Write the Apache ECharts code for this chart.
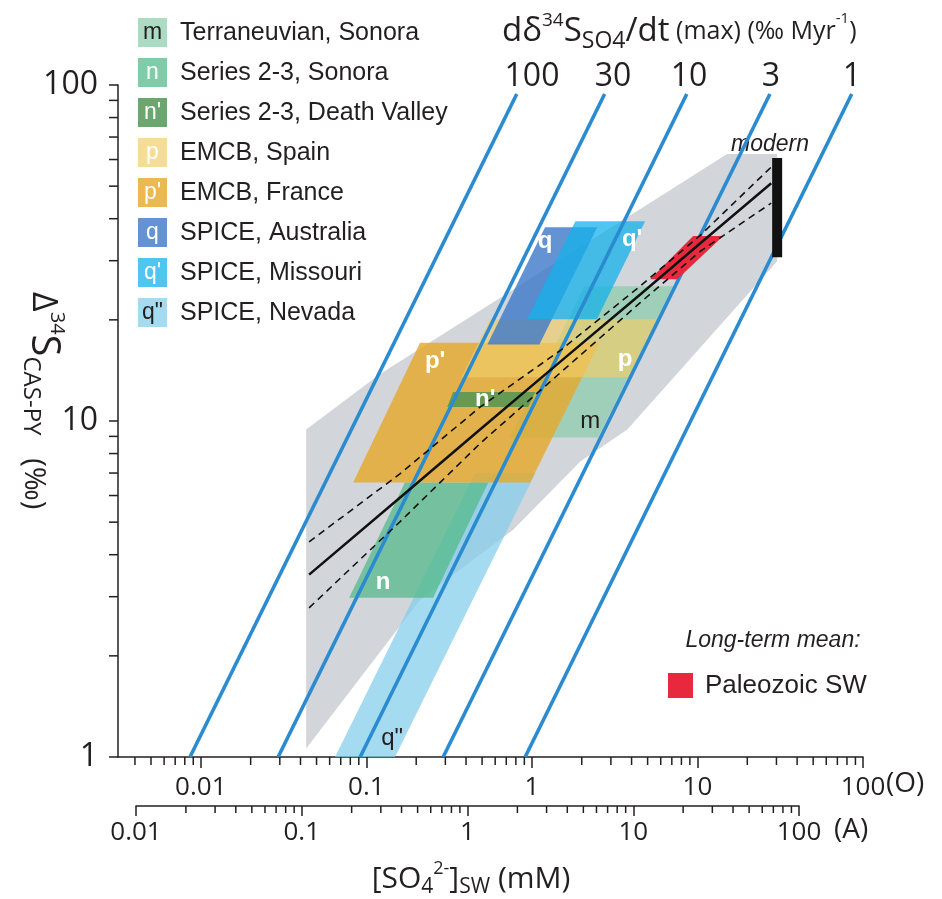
<!DOCTYPE html>
<html>
<head>
<meta charset="utf-8">
<script src="https://cdn.jsdelivr.net/npm/echarts@6.0.0/dist/echarts.min.js"></script>
<style>
  html, body { margin: 0; padding: 0; background: #fff; }
  #main { width: 942px; height: 899px; }
</style>
</head>
<body>
<div id="main"></div>
<script>
// ---- values (x = [SO4] on the (O) scale, y = Δ34S) ----
var oTicks = [0.01, 0.1, 1, 10, 100];
var aTicks = [0.01, 0.1, 1, 10, 100];
var yTicks = [1, 10, 100];
var oMinorTicks = [0.004, 0.005, 0.006, 0.007, 0.008, 0.009, 0.02, 0.03, 0.04, 0.05, 0.06, 0.07, 0.08, 0.09,
  0.2, 0.3, 0.4, 0.5, 0.6, 0.7, 0.8, 0.9, 2, 3, 4, 5, 6, 7, 8, 9, 20, 30, 40, 50, 60, 70, 80, 90];
var aMinorTicks = [0.02, 0.03, 0.04, 0.05, 0.06, 0.07, 0.08, 0.09, 0.2, 0.3, 0.4, 0.5, 0.6, 0.7, 0.8, 0.9,
  2, 3, 4, 5, 6, 7, 8, 9, 20, 30, 40, 50, 60, 70, 80, 90];
var yMinorTicks = [2, 3, 4, 5, 6, 7, 8, 9, 20, 30, 40, 50, 60, 70, 80, 90];

// max rate of change lines (‰/Myr)
var rateLabels = ['100', '30', '10', '3', '1'];
var rateLow = [[0.0086, 1], [0.0293, 1], [0.0917, 1], [0.291, 1], [0.91, 1]];
var rateHigh = [[0.81, 94], [2.75, 94], [8.62, 94], [27.4, 94], [85.5, 94]];

// grey envelope
var envelope = [[0.0433, 1.06], [0.0433, 9.43], [0.121, 13.8], [15.1, 62.3], [30.3, 62.3],
  [30.3, 29.9], [3.77, 9.43], [1.96, 7.57], [0.77, 4.75], [0.211, 2.94]];

// formations
var boxNevada = [[0.0647, 1.0], [0.149, 1.0], [1.05, 7.0], [0.454, 7.0]];
var boxSonoraN = [[0.0787, 2.98], [0.253, 2.98], [0.545, 6.56], [0.171, 6.56]];
var boxSonoraM = [[0.739, 8.93], [2.51, 8.93], [7.14, 25.2], [2.07, 25.2]];
var boxFrance = [[0.0832, 6.56], [0.976, 6.56], [2.55, 17.1], [0.211, 17.1]];
var boxDeathValley = [[0.308, 11.0], [0.949, 11.0], [1.05, 12.2], [0.334, 12.2]];
var boxSpain = [[0.376, 13.5], [4.01, 13.5], [5.96, 20.1], [0.559, 20.1]];
var boxAustralia = [[0.538, 16.9], [1.11, 16.9], [2.48, 37.7], [1.20, 37.7]];
var boxMissouri = [[0.935, 20.1], [2.47, 20.1], [4.83, 39.3], [1.83, 39.3]];
var paleozoicSW = [[5.18, 26.4], [7.55, 26.4], [14.3, 35.5], [9.42, 35.5]];

// regression and confidence band
var fitX = [0.0451, 0.160, 0.486, 1.48, 4.51, 10.4, 27.9];
var fitMid = [3.49, 5.92, 9.43, 15.0, 23.8, 33.8, 51.0];
var fitUpper = [4.37, 6.97, 11.0, 16.2, 25.2, 35.7, 57.0];
var fitLower = [2.78, 5.02, 8.57, 13.9, 22.5, 32.0, 44.5];

// modern seawater
var modernX = 30.3;
var modernRange = [30.7, 60.6];

// box letters
var boxLabelText = ['q', "q'", 'p', "p'", "n'", 'm', 'n', 'q"'];
var boxLabelPos = [[1.20, 34.3], [4.03, 34.8], [3.66, 15.3], [0.260, 15.0], [0.522, 11.6], [2.25, 9.97], [0.126, 3.30], [0.143, 1.14]];

var legendKeys = ['m', 'n', "n'", 'p', "p'", 'q', "q'", 'q"'];
var legendNames = ['Terraneuvian, Sonora', 'Series 2-3, Sonora', 'Series 2-3, Death Valley', 'EMCB, Spain',
  'EMCB, France', 'SPICE, Australia', 'SPICE, Missouri', 'SPICE, Nevada'];

// ---- styling ----
var INK = '#231f20';
var NUM_FONT = '"Open Sans", sans-serif';
var TXT_FONT = '"Liberation Sans", Arial, sans-serif';
var colors = {
  'm': 'rgba(140, 205, 172, 0.72)',
  'n': 'rgba(80, 185, 135, 0.72)',
  "n'": 'rgba(80, 150, 85, 0.85)',
  'p': 'rgba(240, 205, 105, 0.68)',
  "p'": 'rgba(230, 168, 40, 0.8)',
  'q': 'rgba(60, 120, 200, 0.8)',
  "q'": 'rgba(20, 178, 235, 0.75)',
  'q"': 'rgba(130, 205, 235, 0.72)'
};
var keyInk = { 'm': INK, 'q"': INK };
var O_MIN = 0.00316;

function fmt(v) { return String(+(+v).toPrecision(2)); }

function polygonSeries(pts, fill) {
  return {
    type: 'custom', xAxisIndex: 0, yAxisIndex: 0, silent: true,
    data: [pts[0]],
    renderItem: function (params, api) {
      return {
        type: 'polygon',
        shape: { points: pts.map(function (p) { return api.coord(p); }) },
        style: { fill: fill }
      };
    }
  };
}

function tickSeries(values, axis, len) {
  var grid = axis === 'a' ? 1 : 0;
  return {
    type: 'custom', xAxisIndex: grid, yAxisIndex: grid, silent: true, z: 5,
    data: values.map(function (v) {
      if (axis === 'y') return [O_MIN, v];
      if (axis === 'o') return [v, 1];
      return [v, 0];
    }),
    renderItem: function (params, api) {
      var p = api.coord([api.value(0), api.value(1)]);
      var shape = axis === 'y'
        ? { x1: p[0] - len, y1: p[1], x2: p[0], y2: p[1] }
        : { x1: p[0], y1: p[1], x2: p[0], y2: p[1] + len };
      return { type: 'line', shape: shape, style: { stroke: INK, lineWidth: 1.5 } };
    }
  };
}

var chart = echarts.init(document.getElementById('main'));

var graphics = [];
legendKeys.forEach(function (k, i) {
  var top = 18 + 40 * i;
  graphics.push({ type: 'rect', shape: { x: 138, y: top, width: 29, height: 29 }, style: { fill: colors[k] } });
  graphics.push({ type: 'text', x: 152.5, y: top + 14.5,
    style: { text: k, fill: keyInk[k] || '#fff', font: '23px ' + TXT_FONT, align: 'center', verticalAlign: 'middle' } });
  graphics.push({ type: 'text', x: 180, y: top + 15,
    style: { text: legendNames[i], fill: INK, font: '25px ' + TXT_FONT, align: 'left', verticalAlign: 'middle' } });
});

// rate header
graphics.push({
  type: 'text', x: 502, y: 32,
  style: {
    text: '{b|dδ}{sup|34}{b|S}{sub|SO4}{b|/dt}{m| (max) (‰ Myr}{sup2|-1}{m|)}',
    align: 'left', verticalAlign: 'middle', fill: INK,
    rich: {
      b: { fontSize: 33, fontFamily: NUM_FONT, lineHeight: 42, verticalAlign: 'middle', fill: INK },
      sup: { fontSize: 19, fontFamily: NUM_FONT, lineHeight: 21, verticalAlign: 'top', fill: INK },
      sub: { fontSize: 23, fontFamily: NUM_FONT, lineHeight: 24, verticalAlign: 'bottom', fill: INK },
      m: { fontSize: 25, fontFamily: NUM_FONT, lineHeight: 42, verticalAlign: 'middle', fill: INK },
      sup2: { fontSize: 15, fontFamily: NUM_FONT, lineHeight: 32, verticalAlign: 'top', fill: INK }
    }
  }
});
var rateLabelX = [532, 613, 689, 771, 852];
rateLabels.forEach(function (t, i) {
  graphics.push({ type: 'text', x: rateLabelX[i], y: 77,
    style: { text: t, fill: INK, font: '32px ' + NUM_FONT, align: 'center', verticalAlign: 'middle' } });
});

// y axis title (reads top to bottom)
graphics.push({
  type: 'text', x: 43, y: 292, rotation: -Math.PI / 2,
  style: {
    text: '{b|Δ}{sup|34}{s|S}{sub|CAS-PY}{m|   (‰)}',
    align: 'left', verticalAlign: 'middle', fill: INK,
    rich: {
      b: { fontSize: 34, fontFamily: NUM_FONT, lineHeight: 48, verticalAlign: 'middle', fill: INK },
      s: { fontSize: 40, fontFamily: NUM_FONT, lineHeight: 48, verticalAlign: 'middle', fill: INK },
      sup: { fontSize: 20, fontFamily: NUM_FONT, lineHeight: 22, verticalAlign: 'top', fill: INK },
      sub: { fontSize: 24, fontFamily: NUM_FONT, lineHeight: 25, verticalAlign: 'bottom', fill: INK },
      m: { fontSize: 29, fontFamily: NUM_FONT, lineHeight: 36, verticalAlign: 'bottom', fill: INK }
    }
  }
});

// x axis title and scale tags
graphics.push({
  type: 'text', x: 471, y: 879,
  style: {
    text: '{b|[SO}{sub|4}{sup|2-}{b|]}{sub|SW}{b| (mM)}',
    align: 'center', verticalAlign: 'middle', fill: INK,
    rich: {
      b: { fontSize: 30, fontFamily: NUM_FONT, lineHeight: 38, verticalAlign: 'middle', fill: INK },
      sup: { fontSize: 18, fontFamily: NUM_FONT, lineHeight: 19, verticalAlign: 'top', fill: INK },
      sub: { fontSize: 21, fontFamily: NUM_FONT, lineHeight: 21, verticalAlign: 'bottom', fill: INK }
    }
  }
});
graphics.push({ type: 'text', x: 886, y: 784, style: { text: '(O)', fill: INK, font: '28px ' + NUM_FONT, align: 'left', verticalAlign: 'middle' } });
graphics.push({ type: 'text', x: 834, y: 830, style: { text: '(A)', fill: INK, font: '28px ' + NUM_FONT, align: 'left', verticalAlign: 'middle' } });

// annotations
graphics.push({ type: 'text', x: 770, y: 145, style: { text: 'modern', fill: INK, font: 'italic 23px ' + TXT_FONT, align: 'center', verticalAlign: 'middle' } });
graphics.push({ type: 'text', x: 773, y: 641, style: { text: 'Long-term mean:', fill: INK, font: 'italic 23px ' + TXT_FONT, align: 'center', verticalAlign: 'middle' } });
graphics.push({ type: 'rect', shape: { x: 668, y: 673, width: 25, height: 25 }, style: { fill: '#e8283c' } });
graphics.push({ type: 'text', x: 705, y: 686, style: { text: 'Paleozoic SW', fill: INK, font: '26px ' + TXT_FONT, align: 'left', verticalAlign: 'middle' } });

var series = [
  polygonSeries(envelope, '#d2d5da'),
  polygonSeries(boxNevada, colors['q"']),
  polygonSeries(boxSonoraN, colors['n']),
  polygonSeries(boxSonoraM, colors['m']),
  polygonSeries(boxFrance, colors["p'"]),
  polygonSeries(boxDeathValley, colors["n'"]),
  polygonSeries(boxSpain, colors['p']),
  polygonSeries(boxAustralia, colors['q']),
  polygonSeries(boxMissouri, colors["q'"]),
  {
    type: 'custom', xAxisIndex: 0, yAxisIndex: 0, silent: true,
    data: rateLow.map(function (p, i) { return [p[0], p[1], rateHigh[i][0], rateHigh[i][1]]; }),
    encode: { x: [0, 2], y: [1, 3] },
    renderItem: function (params, api) {
      var a = api.coord([api.value(0), api.value(1)]);
      var b = api.coord([api.value(2), api.value(3)]);
      return { type: 'line', shape: { x1: a[0], y1: a[1], x2: b[0], y2: b[1] },
        style: { stroke: '#2a8bd0', lineWidth: 3.6 } };
    }
  },
  polygonSeries(paleozoicSW, '#e8283c'),
  {
    type: 'line', xAxisIndex: 0, yAxisIndex: 0, silent: true, symbol: 'none',
    data: fitX.map(function (x, i) { return [x, fitMid[i]]; }),
    lineStyle: { color: '#111', width: 2.5 }
  },
  {
    type: 'line', xAxisIndex: 0, yAxisIndex: 0, silent: true, symbol: 'none',
    data: fitX.map(function (x, i) { return [x, fitUpper[i]]; }),
    lineStyle: { color: '#111', width: 1.6, type: [7, 5] }
  },
  {
    type: 'line', xAxisIndex: 0, yAxisIndex: 0, silent: true, symbol: 'none',
    data: fitX.map(function (x, i) { return [x, fitLower[i]]; }),
    lineStyle: { color: '#111', width: 1.6, type: [7, 5] }
  },
  {
    type: 'line', xAxisIndex: 0, yAxisIndex: 0, silent: true, symbol: 'none',
    data: [[modernX, modernRange[0]], [modernX, modernRange[1]]],
    lineStyle: { color: '#111', width: 10, cap: 'butt' }
  },
  {
    type: 'custom', xAxisIndex: 0, yAxisIndex: 0, silent: true, z: 6,
    data: boxLabelPos,
    renderItem: function (params, api) {
      var p = api.coord([api.value(0), api.value(1)]);
      var t = boxLabelText[params.dataIndex];
      var dark = !!keyInk[t];
      return { type: 'text', x: p[0], y: p[1],
        style: { text: t, fill: dark ? INK : '#fff', font: (dark ? '' : 'bold ') + '24px ' + TXT_FONT, align: 'center', verticalAlign: 'middle' } };
    }
  },
  tickSeries(yMinorTicks, 'y', 9),
  tickSeries(oMinorTicks, 'o', 8),
  tickSeries(aMinorTicks, 'a', 7)
];

chart.setOption({
  animation: false,
  backgroundColor: '#fff',
  grid: [
    { left: 118, right: 79, top: 85, bottom: 142 },
    { left: 136, right: 143, top: 805, height: 1 }
  ],
  xAxis: [
    {
      type: 'log', logBase: 10, gridIndex: 0, min: O_MIN, max: 100, position: 'bottom',
      axisLine: { show: true, onZero: false, lineStyle: { color: INK, width: 1.5 } },
      axisTick: { show: true, length: 11, customValues: oTicks, lineStyle: { color: INK, width: 1.5 } },
      axisLabel: { customValues: oTicks, formatter: fmt, fontSize: 26, fontFamily: NUM_FONT, color: INK, margin: 18 },
      splitLine: { show: false }
    },
    {
      type: 'log', logBase: 10, gridIndex: 1, min: 0.01, max: 100, position: 'bottom',
      axisLine: { show: true, onZero: false, lineStyle: { color: INK, width: 1.5 } },
      axisTick: { show: true, length: 10, customValues: aTicks, lineStyle: { color: INK, width: 1.5 } },
      axisLabel: { customValues: aTicks, formatter: fmt, fontSize: 26, fontFamily: NUM_FONT, color: INK, margin: 14 },
      splitLine: { show: false }
    }
  ],
  yAxis: [
    {
      type: 'log', logBase: 10, gridIndex: 0, min: 1, max: 100,
      axisLine: { show: true, onZero: false, lineStyle: { color: INK, width: 1.5 } },
      axisTick: { show: true, length: 9, customValues: yTicks, lineStyle: { color: INK, width: 1.5 } },
      axisLabel: { customValues: yTicks, formatter: fmt, fontSize: 32, fontFamily: NUM_FONT, color: INK, margin: 20 },
      splitLine: { show: false }
    },
    { type: 'value', gridIndex: 1, min: 0, max: 1, show: false }
  ],
  graphic: graphics,
  series: series
});
</script>
</body>
</html>
